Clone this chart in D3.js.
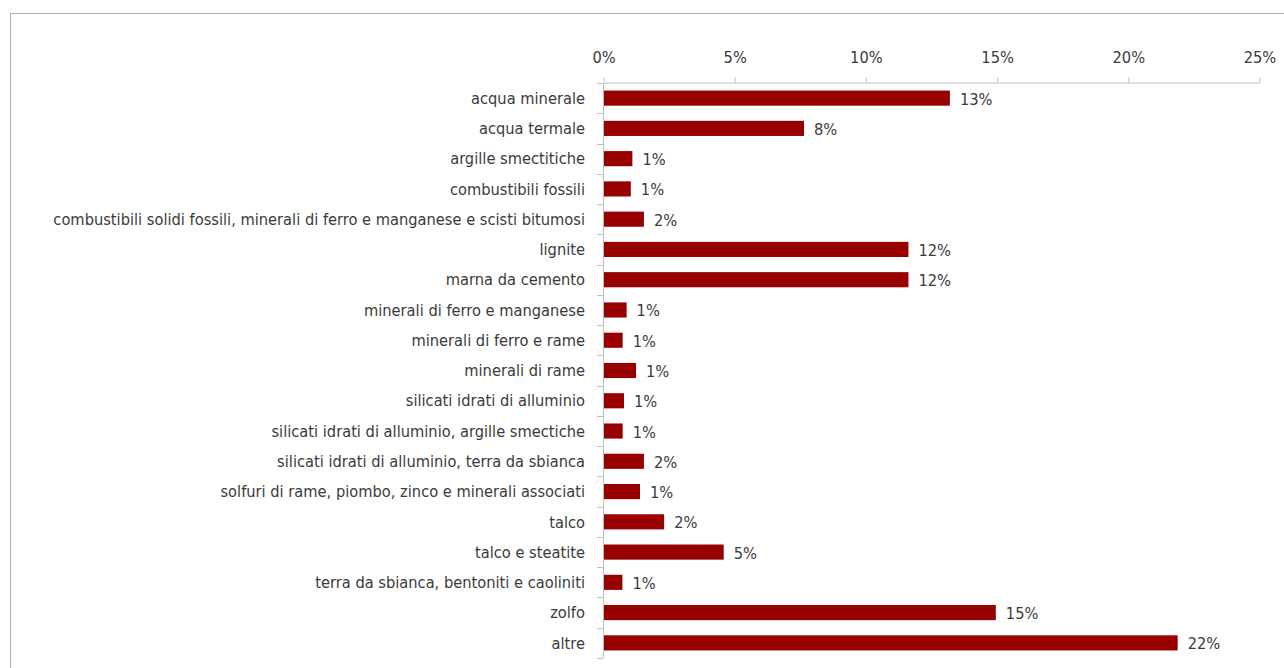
<!DOCTYPE html>
<html>
<head>
<meta charset="utf-8">
<script src="https://cdn.jsdelivr.net/npm/d3@7"></script>
<style>
  html, body { margin: 0; padding: 0; background: #fff; }
  svg { display: block; }
  text { font-family: "Liberation Sans Narrow", "DejaVu Sans Condensed", "Roboto Condensed", sans-serif; fill: #3a3a3a; }
</style>
</head>
<body>
<svg id="chart" width="1284" height="668"></svg>
<script>
// Share of sites by extracted material
const categories = [
  "acqua minerale",
  "acqua termale",
  "argille smectitiche",
  "combustibili fossili",
  "combustibili solidi fossili, minerali di ferro e manganese e scisti bitumosi",
  "lignite",
  "marna da cemento",
  "minerali di ferro e manganese",
  "minerali di ferro e rame",
  "minerali di rame",
  "silicati idrati di alluminio",
  "silicati idrati di alluminio, argille smectiche",
  "silicati idrati di alluminio, terra da sbianca",
  "solfuri di rame, piombo, zinco e minerali associati",
  "talco",
  "talco e steatite",
  "terra da sbianca, bentoniti e caoliniti",
  "zolfo",
  "altre"
];
const shares = [
  0.1322, 0.0766, 0.0112, 0.0106, 0.0156, 0.1164, 0.1164, 0.0090, 0.0075, 0.0126,
  0.0080, 0.0075, 0.0156, 0.0141, 0.0233, 0.0460, 0.0074, 0.1497, 0.2190
];
const xTicks = [0, 0.05, 0.10, 0.15, 0.20, 0.25];

const svg = d3.select("#chart");
const fmt = d3.format(".0%");
const fontSize = 16.3;

// outer frame
svg.append("rect")
  .attr("x", 10.5).attr("y", 13.5)
  .attr("width", 1290).attr("height", 700)
  .attr("fill", "none")
  .attr("stroke", "#a9b0a8")
  .attr("stroke-width", 1);

const x = d3.scaleLinear().domain([0, 0.25]).range([603, 1259]);
const y = d3.scaleBand().domain(categories).range([83, 658])
  .paddingInner(0.5).paddingOuter(0.25);

const axisColor = "#bfbfbf";

// top value axis
const gx = svg.append("g")
  .attr("transform", `translate(0.5,${y.range()[0] - 0.5})`)
  .call(d3.axisTop(x).tickValues(xTicks).tickFormat(fmt)
    .tickSizeInner(5).tickSizeOuter(0).tickPadding(15));
gx.select(".domain").attr("stroke", axisColor);
gx.selectAll(".tick line").attr("stroke", axisColor);
gx.selectAll(".tick text").attr("font-size", fontSize).attr("fill", "#3a3a3a");

// left category axis: vertical line with ticks between categories
const gy = svg.append("g");
const y0 = y.range()[0], y1 = y.range()[1];
gy.append("line")
  .attr("x1", x(0) + 0.5).attr("x2", x(0) + 0.5)
  .attr("y1", y0).attr("y2", y1)
  .attr("stroke", axisColor);
gy.selectAll("line.tick")
  .data(d3.range(categories.length + 1))
  .join("line")
  .attr("class", "tick")
  .attr("x1", x(0) - 6).attr("x2", x(0))
  .attr("y1", i => Math.round(y0 + i * y.step()) + 0.5)
  .attr("y2", i => Math.round(y0 + i * y.step()) + 0.5)
  .attr("stroke", axisColor);

// category labels
svg.append("g").selectAll("text")
  .data(categories)
  .join("text")
  .attr("x", x(0) - 18)
  .attr("y", d => y(d) + y.bandwidth() / 2)
  .attr("dy", "0.35em")
  .attr("text-anchor", "end")
  .attr("font-size", fontSize)
  .text(d => d);

// bars
svg.append("g").selectAll("rect")
  .data(categories)
  .join("rect")
  .attr("x", x(0) + 1)
  .attr("y", d => y(d))
  .attr("width", (d, i) => x(shares[i]) - x(0) - 1)
  .attr("height", y.bandwidth())
  .attr("fill", "#990000");

// value labels
svg.append("g").selectAll("text")
  .data(categories)
  .join("text")
  .attr("x", (d, i) => x(shares[i]) + 10)
  .attr("y", d => y(d) + y.bandwidth() / 2)
  .attr("dy", "0.4em")
  .attr("font-size", fontSize)
  .text((d, i) => fmt(shares[i]));
</script>
</body>
</html>
